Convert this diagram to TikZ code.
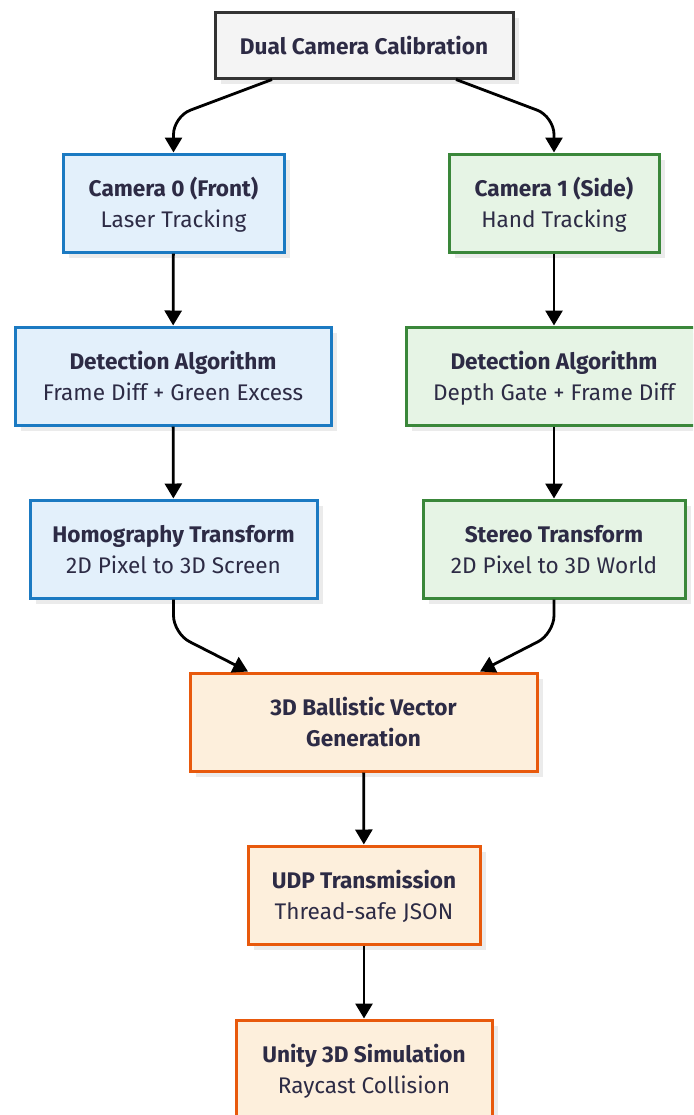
\documentclass[tikz,border=0pt]{standalone}
\usepackage{fontspec}
\setmainfont{Fira Sans}
\usepackage{xcolor}
\usetikzlibrary{arrows.meta,calc,shadows}

\definecolor{ink}{HTML}{2D2B45}
\definecolor{shade}{HTML}{EBEBEB}
\definecolor{grayline}{HTML}{333333}
\definecolor{grayfill}{HTML}{F4F4F4}
\definecolor{blueline}{HTML}{1B7AC2}
\definecolor{bluefill}{HTML}{E3F0FB}
\definecolor{greenline}{HTML}{3A873A}
\definecolor{greenfill}{HTML}{E6F4E5}
\definecolor{orangeline}{HTML}{E8590C}
\definecolor{orangefill}{HTML}{FDEFDC}

% bold heading line of a box
\newcommand{\hd}[1]{\rule{0pt}{13.8pt}{\bfseries #1}}

\begin{document}
\begin{tikzpicture}[
  x=0.5pt, y=-0.5pt,
  box/.style={draw, line width=1.5pt, minimum height=49pt, align=center,
              text=ink, font=\fontsize{11.3}{15.5}\selectfont,
              execute at end node=\strut,
              drop shadow={shadow xshift=3pt, shadow yshift=-3pt,
                           fill=shade, opacity=1}},
  start/.style={box, draw=grayline, fill=grayfill},
  front/.style={box, draw=blueline, fill=bluefill},
  side/.style={box, draw=greenline, fill=greenfill},
  merge/.style={box, draw=orangeline, fill=orangefill},
  arr/.style={-{Triangle[length=7.5pt, width=8.5pt]}, line width=1.4pt,
              rounded corners=9pt},
]
\path[use as bounding box, clip] (0,0) rectangle (693,1115);

\node[start, minimum width=149pt, minimum height=33pt] (dual) at (364,45)
     {\hd{Dual Camera Calibration}};

\node[front, minimum width=110.5pt] (cam0) at (173.5,203)
     {\hd{Camera 0 (Front)}\\Laser Tracking};
\node[side, minimum width=105pt] (cam1) at (554,203)
     {\hd{Camera 1 (Side)}\\Hand Tracking};

\node[front, minimum width=158pt] (det0) at (173,376)
     {\hd{Detection Algorithm}\\Frame Diff + Green Excess};
\node[side, minimum width=148pt] (det1) at (554,376)
     {\hd{Detection Algorithm}\\Depth Gate + Frame Diff};

\node[front, minimum width=143.5pt] (homo) at (173.5,549)
     {\hd{Homography Transform}\\2D Pixel to 3D Screen};
\node[side, minimum width=131pt] (stereo) at (554,549)
     {\hd{Stereo Transform}\\2D Pixel to 3D World};

\node[merge, minimum width=173.5pt] (ballistic) at (363.5,722)
     {\hd{3D Ballistic Vector}\\\bfseries Generation};

\node[merge, minimum width=116pt] (udp) at (364,895)
     {\hd{UDP Transmission}\\Thread-safe JSON};

\node[merge, minimum width=128pt] (unity) at (364,1069)
     {\hd{Unity 3D Simulation}\\Raycast Collision};

% split to both cameras
\draw[arr] ($(dual.south)+(-92,0)$) -- ($(cam0.north)+(0,-36)$) -- (cam0.north);
\draw[arr] ($(dual.south)+(92,0)$) -- ($(cam1.north)+(0,-36)$) -- (cam1.north);

\draw[arr] (cam0) -- (det0);
\draw[arr] (cam1) -- (det1);
\draw[arr] (det0) -- (homo);
\draw[arr] (det1) -- (stereo);

% join into the vector
\draw[arr] (homo.south) -- ($(homo.south)+(0,34)$) -- ($(ballistic.north)+(-115.5,0)$);
\draw[arr] (stereo.south) -- ($(stereo.south)+(0,34)$) -- ($(ballistic.north)+(116.5,0)$);

\draw[arr] (ballistic) -- (udp);
\draw[arr] (udp) -- (unity);
\end{tikzpicture}
\end{document}
